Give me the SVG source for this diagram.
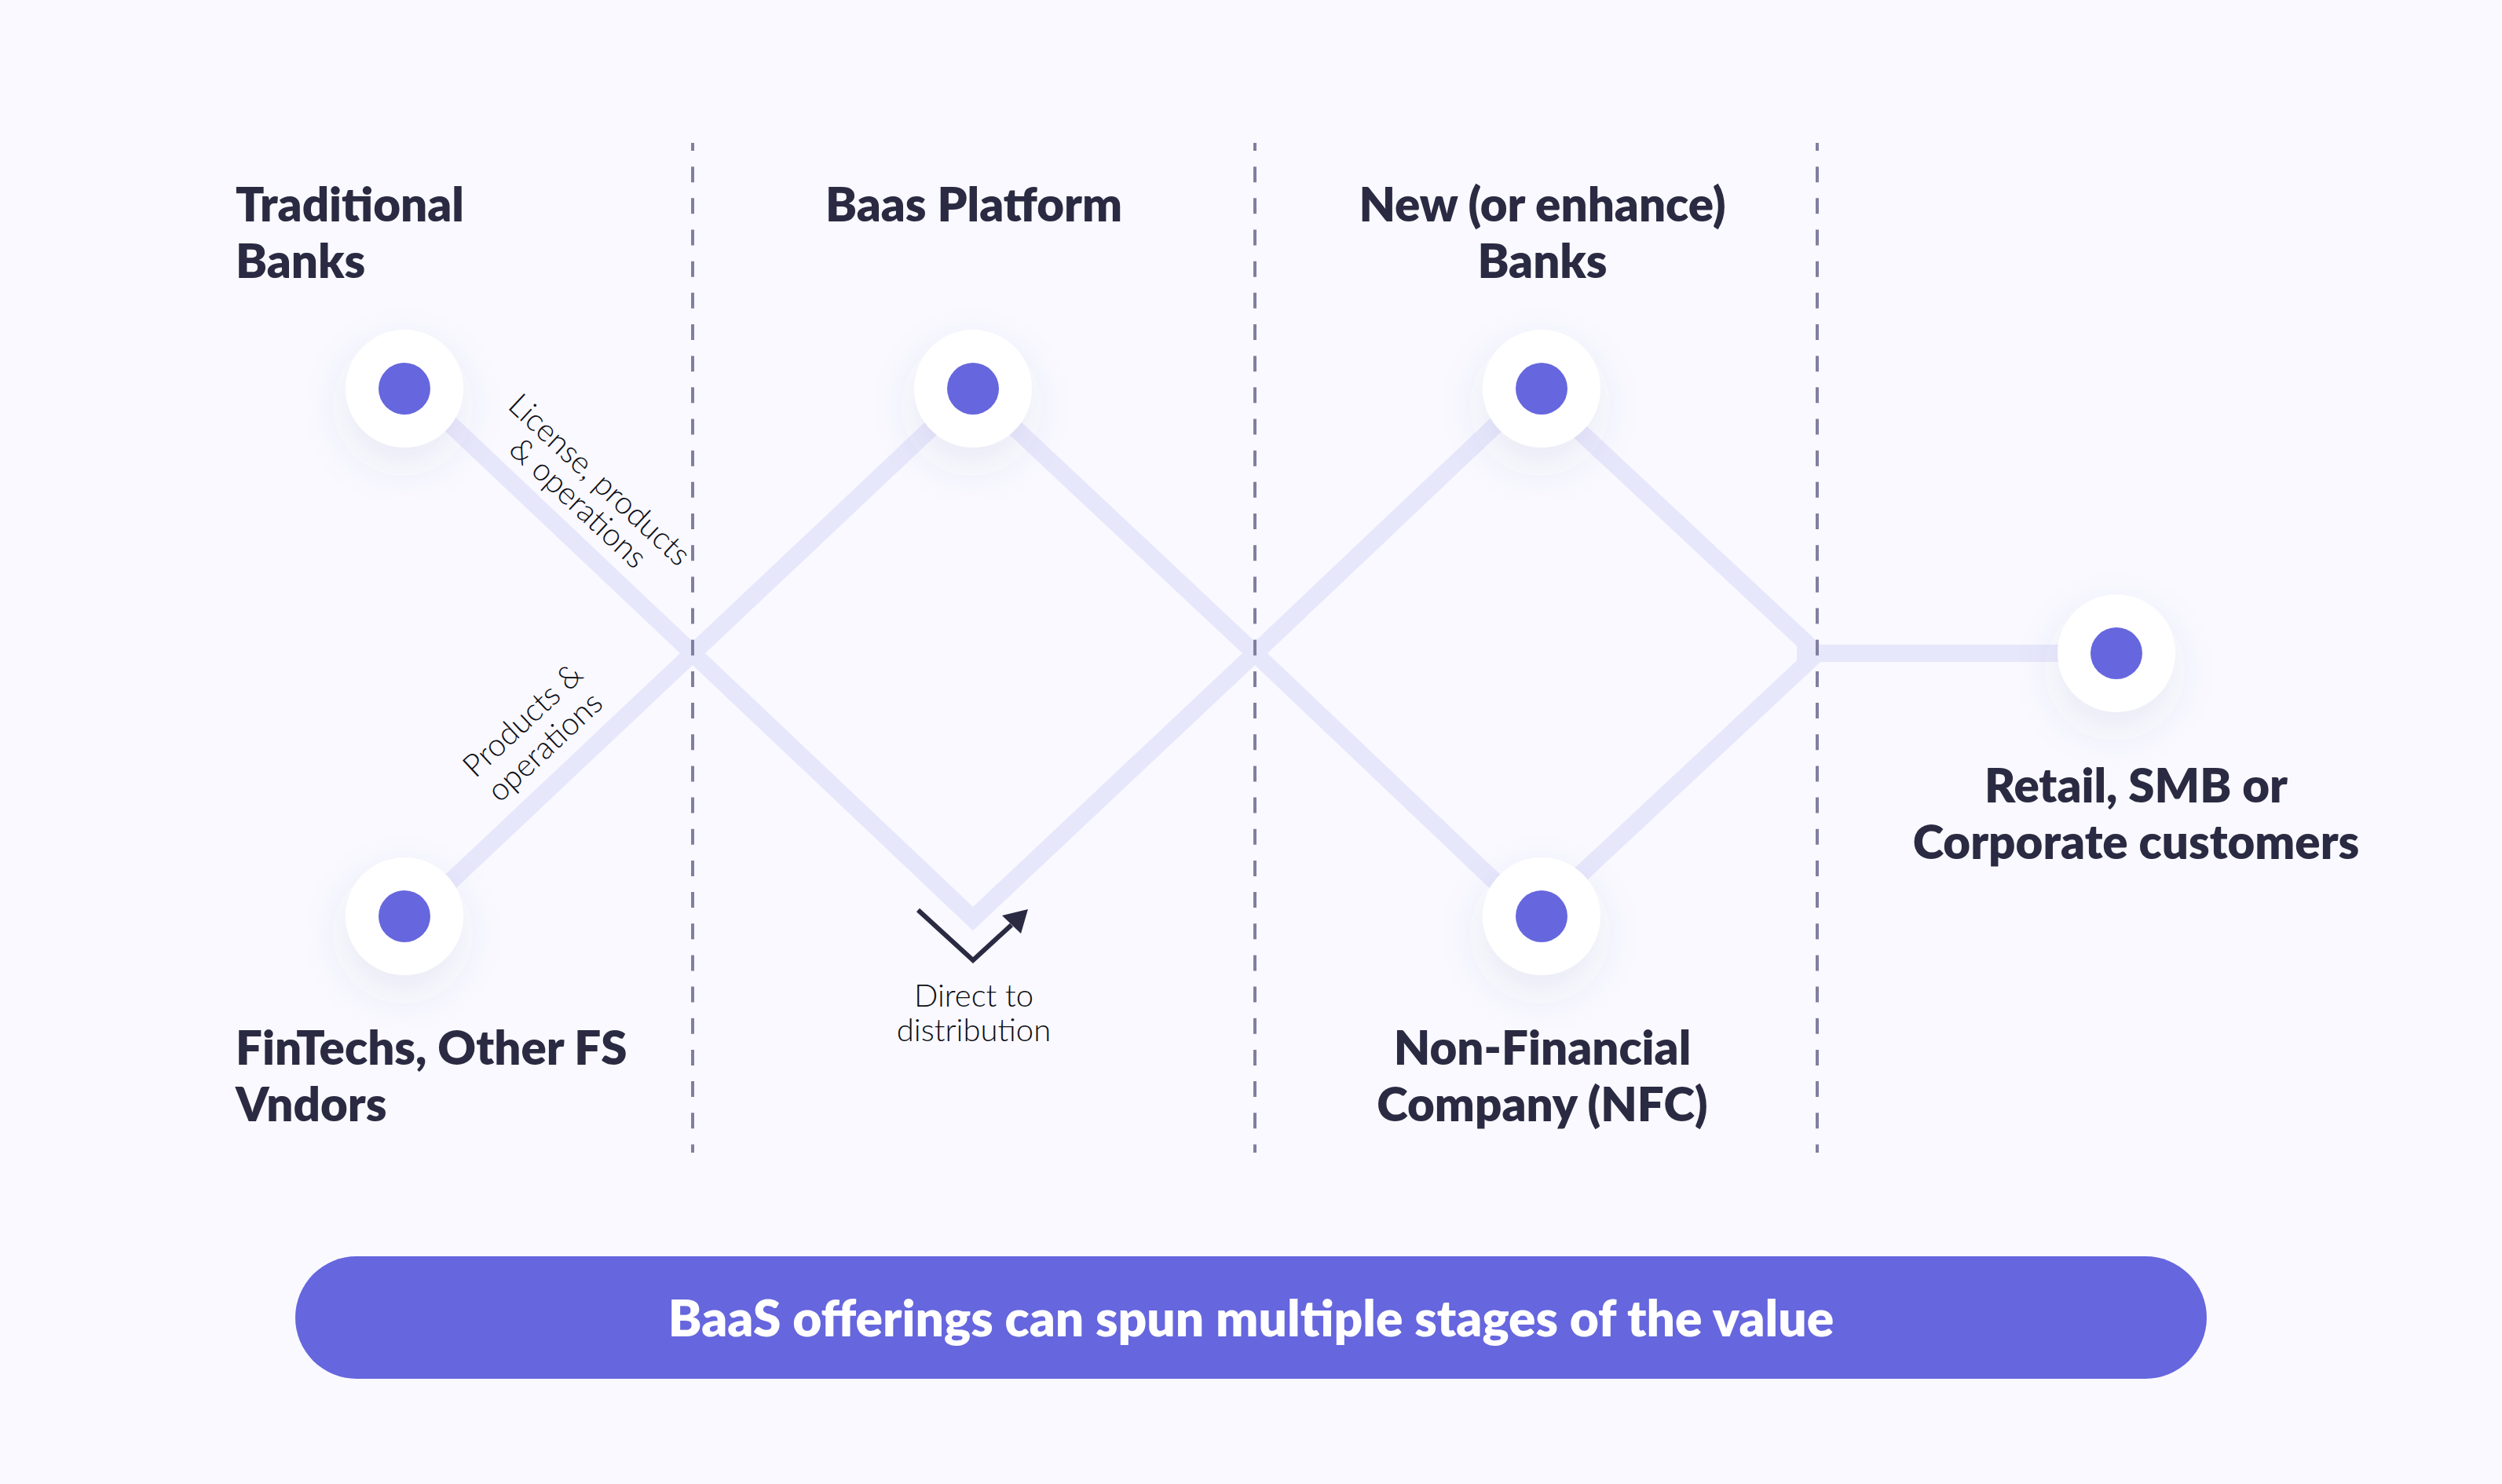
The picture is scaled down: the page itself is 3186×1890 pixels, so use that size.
<svg xmlns="http://www.w3.org/2000/svg" width="3186" height="1890" viewBox="0 0 3186 1890">
<style>
.h{font-family:Lato,"Liberation Sans",sans-serif;font-weight:800;font-size:60px;fill:#2a2a42}
.m{text-anchor:middle}
.s{font-family:Lato,"Liberation Sans",sans-serif;font-weight:300;font-size:40px;fill:#0d0d14}
.c{fill:none;stroke:#e7e7fc;stroke-width:22}
.d{fill:none;stroke:#807f9f;stroke-width:4;stroke-dasharray:20 20.17;stroke-dashoffset:10}
.o{fill:#fff;filter:url(#sh)}
.i{fill:#6666de}
</style>
<defs>
<filter id="sh" x="-120%" y="-120%" width="340%" height="340%"><feDropShadow dx="-2" dy="22" stdDeviation="28" flood-color="#50508c" flood-opacity="0.09"/></filter>
</defs>
<rect width="3186" height="1890" fill="#f9f9ff"/>
<g id="connectors">
<path class="c" d="M515 485L882 832L1239 1170L1598 832L1963 486"/>
<path class="c" d="M515 1178L882 832L1239 495L1598 832L1963 1179"/>
<path class="c" d="M1963 504L2314 832"/>
<path class="c" d="M1963 1160L2314 832"/>
<path class="c" d="M2314 832H2640"/>
<polygon fill="#e7e7fc" points="2288,822 2288,842 2316,843 2316,821 2311,815"/>
</g>
<g id="dividers">
<path class="d" d="M882 182V1468"/>
<path class="d" d="M1598 182V1468"/>
<path class="d" d="M2314 182V1468"/>
</g>
<g id="node-traditional-banks"><circle class="o" cx="515" cy="495" r="75"/><circle class="i" cx="515" cy="495" r="33"/>
<text class="h" x="300" y="282">Traditional</text><text class="h" x="300" y="354">Banks</text></g>
<g id="node-fintechs"><circle class="o" cx="515" cy="1167" r="75"/><circle class="i" cx="515" cy="1167" r="33"/>
<text class="h" x="300" y="1356">FinTechs, Other FS</text><text class="h" x="300" y="1428">Vndors</text></g>
<g id="node-baas-platform"><circle class="o" cx="1239" cy="495" r="75"/><circle class="i" cx="1239" cy="495" r="33"/>
<text class="h m" x="1240" y="282">Baas Platform</text></g>
<g id="node-new-banks"><circle class="o" cx="1963" cy="495" r="75"/><circle class="i" cx="1963" cy="495" r="33"/>
<text class="h m" x="1964" y="282">New (or enhance)</text><text class="h m" x="1964" y="354">Banks</text></g>
<g id="node-nfc"><circle class="o" cx="1963" cy="1167" r="75"/><circle class="i" cx="1963" cy="1167" r="33"/>
<text class="h m" x="1964" y="1356">Non-Financial</text><text class="h m" x="1964" y="1428">Company (NFC)</text></g>
<g id="node-customers"><circle class="o" cx="2695" cy="832" r="75"/><circle class="i" cx="2695" cy="832" r="33"/>
<text class="h m" x="2720" y="1022">Retail, SMB or</text><text class="h m" x="2720" y="1094">Corporate customers</text></g>
<g id="labels">
<text class="s" transform="translate(645 519) rotate(43)">License, products</text>
<text class="s" transform="translate(646 575) rotate(43)">&amp; operations</text>
<text class="s m" transform="translate(675 927) rotate(-43)">Products &amp;</text>
<text class="s m" transform="translate(703 961) rotate(-43)">operations</text>
<text class="s m" x="1240" y="1282">Direct to</text>
<text class="s m" x="1240" y="1326">distribution</text>
</g>
<g id="direct-icon">
<polyline points="1169,1159 1239,1223 1288,1178" fill="none" stroke="#2a2a42" stroke-width="6"/>
<polygon points="1309,1158 1276,1166 1300,1189" fill="#2a2a42"/>
</g>
<g id="banner">
<rect x="376" y="1600" width="2434" height="156" rx="78" fill="#6666de"/>
<text x="1593" y="1702" text-anchor="middle" style="font-family:Lato,'Liberation Sans',sans-serif;font-weight:800;font-size:64px;fill:#fff">BaaS offerings can spun multiple stages of the value</text>
</g>
</svg>
